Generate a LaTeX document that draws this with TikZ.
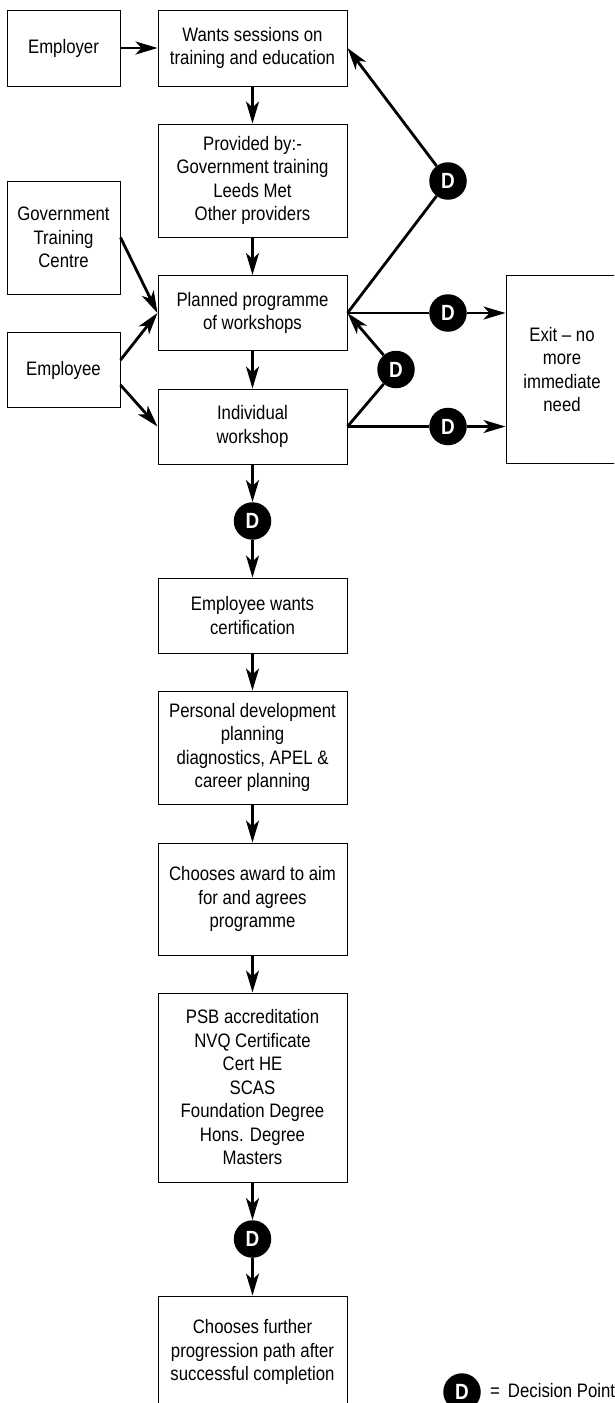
\documentclass[tikz,border=0pt]{standalone}
\usepackage{fontspec}
\setmainfont[FakeStretch=0.86]{Liberation Sans}
\usetikzlibrary{arrows.meta}
\begin{document}
\begin{tikzpicture}[x=1pt,y=-1pt,
  box/.style={draw,line width=1pt,align=center,inner sep=0pt,
    font=\fontsize{19.5}{23.5}\selectfont},
  dnode/.style={circle,fill=black,minimum size=37.5pt,inner sep=0pt,
    text=white,font=\fontsize{22}{22}\selectfont\bfseries},
  conn/.style={line width=2.8pt},
  arr/.style={conn,-{Stealth[length=22pt,width=13pt,inset=6pt]}}]
\useasboundingbox (0,0) rectangle (614,1403);
\clip (0,0) rectangle (614,1403);
\fill[white] (0,0) rectangle (614,1403);
% boxes
\node[box,minimum width=113pt,minimum height=76pt] (employer) at (63.5,48) {Employer};
\node[box,minimum width=189pt,minimum height=76pt] (wants) at (252.5,48) {Wants sessions on\\training and education};
\node[box,minimum width=189pt,minimum height=113pt] (provided) at (252.5,180.5) {Provided by:-\\Government training\\Leeds Met\\Other providers};
\node[box,minimum width=113pt,minimum height=113pt] (gov) at (63.5,237.5) {Government\\Training\\Centre};
\node[box,minimum width=189pt,minimum height=75pt] (planned) at (252.5,313) {Planned programme\\of workshops};
\node[box,minimum width=113pt,minimum height=75pt] (employee) at (63.5,370) {Employee};
\node[box,minimum width=189pt,minimum height=75pt] (individual) at (252.5,426.5) {Individual\\workshop};
\node[box,minimum width=112pt,minimum height=188pt] (exit) at (562,369.7) {Exit -- no\\more\\immediate\\need};
\node[box,minimum width=189pt,minimum height=75pt] (cert) at (252.5,615.5) {Employee wants\\certification};
\node[box,minimum width=189pt,minimum height=113pt] (personal) at (252.5,747.5) {Personal development\\planning\\diagnostics, APEL \&\\career planning};
\node[box,minimum width=189pt,minimum height=112pt] (award) at (252.5,899) {Chooses award to aim\\for and agrees\\programme};
\node[box,minimum width=189pt,minimum height=189pt] (psb) at (252.5,1087.5) {PSB accreditation\\NVQ Certificate\\Cert HE\\SCAS\\Foundation Degree\\Hons. Degree\\Masters};
\node[box,minimum width=189pt,minimum height=112pt] (further) at (252.5,1352) {Chooses further\\progression path after\\successful completion};
% decision points
\node[dnode] (d1) at (448,181) {D};
\node[dnode] (d2) at (448,313) {D};
\node[dnode] (d3) at (396,369.5) {D};
\node[dnode] (d4) at (448,426.5) {D};
\node[dnode] (d5) at (252.5,521) {D};
\node[dnode] (d6) at (252.5,1239) {D};
\node[dnode] (legend) at (462,1392) {D};
\node[anchor=west,inner sep=0pt,font=\fontsize{19.5}{23.5}\selectfont] (legendtext) at (490,1391) {=\hspace{8pt}Decision Point};
% connectors
\draw[arr] (employer.east) -- (wants.west);
\draw[arr] (wants.south) -- (provided.north);
\draw[arr] (provided.south) -- (planned.north);
\draw[arr] (planned.south) -- (individual.north);
\draw[arr] (gov.east) -- (planned.west);
\draw[arr] ([yshift=10pt]employee.east) -- (planned.west);
\draw[arr] ([yshift=-15pt]employee.east) -- (individual.west);
\draw[conn] (planned.east) -- (d1);
\draw[arr] (d1) -- (wants.east);
\draw[conn] (planned.east) -- (d2);
\draw[arr] (d2) -- (exit.west |- d2);
\draw[conn] (individual.east) -- (d4);
\draw[arr] (d4) -- (exit.west |- d4);
\draw[conn] (individual.east) -- (d3);
\draw[arr] (d3) -- (planned.east);
\draw[arr] (individual.south) -- (d5);
\draw[arr] (d5) -- (cert.north);
\draw[arr] (cert.south) -- (personal.north);
\draw[arr] (personal.south) -- (award.north);
\draw[arr] (award.south) -- (psb.north);
\draw[arr] (psb.south) -- (d6);
\draw[arr] (d6) -- (further.north);
\end{tikzpicture}
\end{document}
